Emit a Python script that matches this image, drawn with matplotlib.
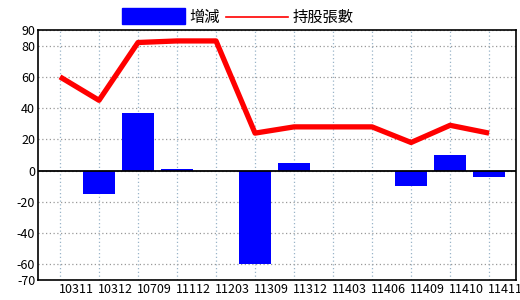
import numpy as np
import matplotlib
matplotlib.use('Agg')
import matplotlib.pyplot as plt
from matplotlib.patches import Rectangle
from matplotlib.lines import Line2D

plt.rcParams['font.family'] = ['Noto Sans CJK TC', 'DejaVu Sans']

# --- data ---
periods = ['10311', '10312', '10709', '11112', '11203', '11309',
           '11312', '11403', '11406', '11409', '11410', '11411']
change = [0, -15, 37, 1, 0, -60, 5, 0, 0, -10, 10, -4]
holdings = [60, 45, 82, 83, 83, 24, 28, 28, 28, 18, 29, 24]
y_ticks = [90, 80, 60, 40, 20, 0, -20, -40, -60, -70]

x = np.arange(len(periods))

fig = plt.figure(figsize=(5.2, 3.0), dpi=100)
ax = fig.add_axes([38 / 520, 20 / 300, 478 / 520, 250 / 300])

ax.bar(x, change, width=0.82, color='#0000ff', zorder=2)
ax.plot(x, holdings, color='#ff0000', lw=3.8, zorder=3, solid_capstyle='butt')
ax.axhline(0, color='black', lw=1.3, zorder=2.5)

ax.set_xlim(-0.564, 11.69)
ax.set_ylim(-70, 90)
ax.set_yticks(y_ticks)
ax.set_yticklabels([str(v) for v in y_ticks])
ax.set_xticks(x)
ax.set_xticklabels([])
for i, p in enumerate(periods):
    ax.text(i + 0.42, -72, p, ha='center', va='top', fontsize=9, clip_on=False)

ax.tick_params(axis='both', length=0, labelsize=9, pad=2)
ax.grid(axis='y', color='#999999', ls=(0, (1, 2)), lw=0.9, zorder=1)
ax.grid(axis='x', color='#99b4c8', ls=(0, (1, 2)), lw=0.9, zorder=1)
for s in ax.spines.values():
    s.set_color('black')
    s.set_linewidth(1.2)

# --- legend at top ---
fig.patches.append(Rectangle((122 / 520, 1 - 24 / 300), 63 / 520, 16 / 300,
                             transform=fig.transFigure, color='#0000ff'))
fig.text(189 / 520, 1 - 17 / 300, '增減', fontsize=11, va='center', ha='left')
fig.lines.append(Line2D([226 / 520, 288 / 520], [1 - 17 / 300, 1 - 17 / 300],
                        transform=fig.transFigure, color='#ff0000', lw=1.2))
fig.text(293 / 520, 1 - 17 / 300, '持股張數', fontsize=11, va='center', ha='left')

fig.savefig('out.png', dpi=100)
